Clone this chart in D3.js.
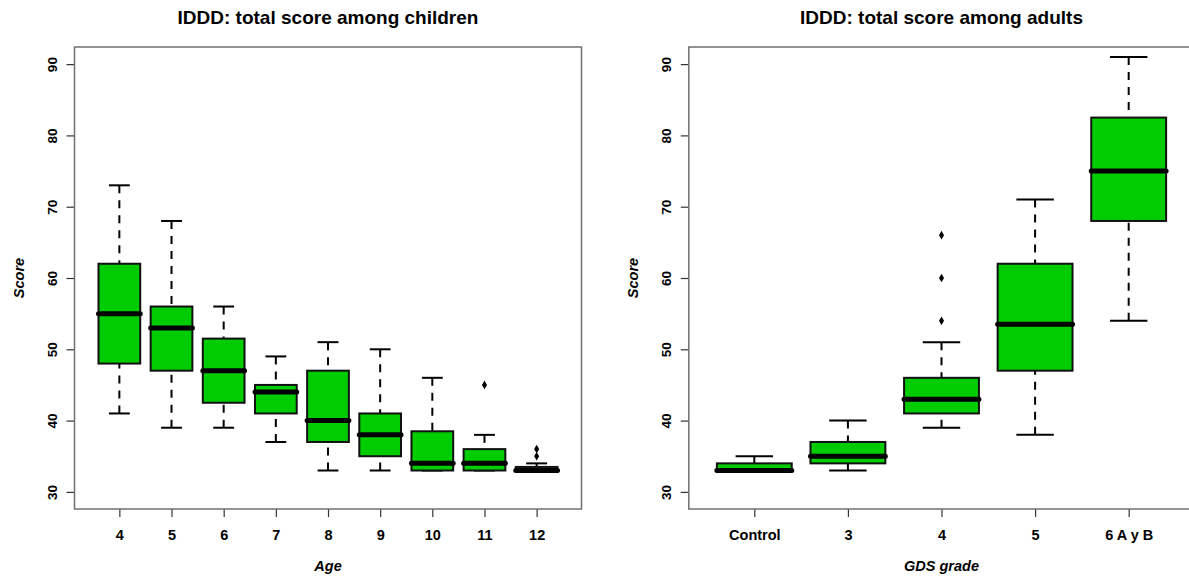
<!DOCTYPE html>
<html>
<head>
<meta charset="utf-8">
<script src="https://cdn.jsdelivr.net/npm/d3@7"></script>
<style>
  html, body { margin: 0; padding: 0; background: #fff; }
  svg { display: block; font-family: "Liberation Sans", Arial, sans-serif; }
</style>
</head>
<body>
<svg id="chart" width="1189" height="576"></svg>
<script>
// Children: IDDD total score by age
const ages = ["4", "5", "6", "7", "8", "9", "10", "11", "12"];
const childLow  = [41, 39, 39,   37, 33, 33, 33,   33, 33];
const childQ1   = [48, 47, 42.5, 41, 37, 35, 33,   33, 33];
const childMed  = [55, 53, 47,   44, 40, 38, 34,   34, 33];
const childQ3   = [62, 56, 51.5, 45, 47, 41, 38.5, 36, 33.5];
const childHigh = [73, 68, 56,   49, 51, 50, 46,   38, 34];
const childOut  = [[], [], [], [], [], [], [], [45], [35, 36]];

// Adults: IDDD total score by GDS grade
const grades = ["Control", "3", "4", "5", "6 A y B"];
const adultLow  = [33, 33, 39, 38,   54];
const adultQ1   = [33, 34, 41, 47,   68];
const adultMed  = [33, 35, 43, 53.5, 75];
const adultQ3   = [34, 37, 46, 62,   82.5];
const adultHigh = [35, 40, 51, 71,   91];
const adultOut  = [[], [], [54, 60, 66], [], []];

const scoreTicks = [30, 40, 50, 60, 70, 80, 90];

const svg = d3.select("#chart");
const FILL = "#00CC00";

function panel(opts) {
  const n = opts.cats.length;
  const pad = 0.04 * n;
  const x = d3.scaleLinear().domain([0.5 - pad, n + 0.5 + pad]).range([opts.x0, opts.x1]);
  const yPad = 0.04 * 60;
  const y = d3.scaleLinear().domain([30 - yPad, 90 + yPad]).range([509, 47]);

  const g = svg.append("g");

  // title
  g.append("text")
    .attr("x", (opts.x0 + opts.x1) / 2).attr("y", 24)
    .attr("text-anchor", "middle")
    .style("font-weight", "bold").style("font-size", "19px")
    .text(opts.title);

  // y axis ticks + labels
  const yAxis = d3.axisLeft(y).tickValues(scoreTicks).tickSize(8).tickPadding(0).tickFormat(d3.format("d"));
  const ya = g.append("g").attr("transform", `translate(${opts.x0},0)`).call(yAxis);
  ya.select(".domain").remove();
  ya.selectAll(".tick line").attr("stroke", "#333").attr("stroke-width", 1.2);
  ya.selectAll(".tick text")
    .attr("x", 0).attr("y", 0).attr("dy", 0)
    .attr("transform", "translate(-18,0) rotate(-90)")
    .attr("text-anchor", "middle")
    .attr("fill", "#000")
    .style("font-weight", "bold").style("font-size", "13.5px").style("font-family", "Liberation Sans, Arial, sans-serif");

  // x axis ticks + labels
  const xAxis = d3.axisBottom(x).tickValues(d3.range(1, n + 1)).tickSize(8).tickPadding(0)
    .tickFormat(i => opts.cats[i - 1]);
  const xa = g.append("g").attr("transform", "translate(0,509)").call(xAxis);
  xa.select(".domain").remove();
  xa.selectAll(".tick line").attr("stroke", "#333").attr("stroke-width", 1.2);
  xa.selectAll(".tick text")
    .attr("y", 31).attr("dy", 0)
    .attr("fill", "#000")
    .style("font-weight", "bold").style("font-size", "14.5px").style("font-family", "Liberation Sans, Arial, sans-serif");

  // axis titles
  g.append("text")
    .attr("x", (opts.x0 + opts.x1) / 2).attr("y", 571)
    .attr("text-anchor", "middle")
    .style("font-weight", "bold").style("font-style", "italic").style("font-size", "14.5px")
    .text(opts.xTitle);
  g.append("text")
    .attr("transform", `translate(${opts.x0 - 51},278) rotate(-90)`)
    .attr("text-anchor", "middle")
    .style("font-weight", "bold").style("font-style", "italic").style("font-size", "14.5px")
    .text("Score");

  const bw = 0.8 * (x(2) - x(1));
  const data = opts.cats.map((c, i) => ({
    i: i + 1, low: opts.low[i], q1: opts.q1[i], med: opts.med[i],
    q3: opts.q3[i], high: opts.high[i], out: opts.out[i]
  }));

  const box = g.append("g").selectAll("g").data(data).join("g");

  // whiskers (dashed), drawn from the cap toward the box
  box.append("line")
    .attr("x1", d => x(d.i)).attr("x2", d => x(d.i))
    .attr("y1", d => y(d.high)).attr("y2", d => y(d.q3))
    .attr("stroke", "#000").attr("stroke-width", 2).attr("stroke-dasharray", "8,7");
  box.append("line")
    .attr("x1", d => x(d.i)).attr("x2", d => x(d.i))
    .attr("y1", d => y(d.low)).attr("y2", d => y(d.q1))
    .attr("stroke", "#000").attr("stroke-width", 2).attr("stroke-dasharray", "8,7");

  // staples
  ["high", "low"].forEach(k => {
    box.append("line")
      .attr("x1", d => x(d.i) - bw / 4).attr("x2", d => x(d.i) + bw / 4)
      .attr("y1", d => y(d[k])).attr("y2", d => y(d[k]))
      .attr("stroke", "#000").attr("stroke-width", 2);
  });

  // boxes
  box.append("rect")
    .attr("x", d => x(d.i) - bw / 2).attr("width", bw)
    .attr("y", d => y(d.q3)).attr("height", d => y(d.q1) - y(d.q3))
    .attr("fill", FILL).attr("stroke", "#111").attr("stroke-width", 2);

  // medians
  box.append("line")
    .attr("x1", d => x(d.i) - bw / 2).attr("x2", d => x(d.i) + bw / 2)
    .attr("y1", d => y(d.med)).attr("y2", d => y(d.med))
    .attr("stroke", "#000").attr("stroke-width", 5).attr("stroke-linecap", "round");

  // outliers
  box.selectAll("path.out").data(d => d.out.map(v => ({ i: d.i, v })))
    .join("path").attr("class", "out")
    .attr("d", d3.symbol(d3.symbolDiamond, 22))
    .attr("transform", d => `translate(${x(d.i)},${y(d.v)})`)
    .attr("fill", "#000");

  // plot frame
  g.append("rect")
    .attr("x", opts.x0).attr("y", 47)
    .attr("width", opts.x1 - opts.x0).attr("height", 462)
    .attr("fill", "none").attr("stroke", "#707070").attr("stroke-width", 1.5);
}

panel({
  title: "IDDD: total score among children", xTitle: "Age",
  cats: ages, low: childLow, q1: childQ1, med: childMed, q3: childQ3, high: childHigh, out: childOut,
  x0: 74.5, x1: 581.5
});
panel({
  title: "IDDD: total score among adults", xTitle: "GDS grade",
  cats: grades, low: adultLow, q1: adultQ1, med: adultMed, q3: adultQ3, high: adultHigh, out: adultOut,
  x0: 688.8, x1: 1194.2
});
</script>
</body>
</html>
